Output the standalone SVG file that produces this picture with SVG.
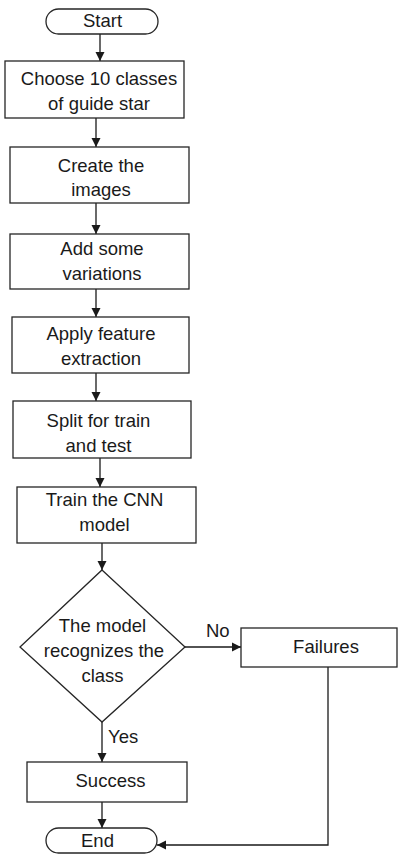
<svg xmlns="http://www.w3.org/2000/svg" width="398" height="854" viewBox="0 0 398 854">
  <style>
    .box { fill: #ffffff; stroke: #262626; stroke-width: 1.3; }
    .edge { fill: none; stroke: #1a1a1a; stroke-width: 1.3; }
    text { font-family: "Liberation Sans", Arial, sans-serif; font-size: 18.5px; fill: #1a1a1a; text-anchor: middle; }
    .lbl { text-anchor: start; }
  </style>
  <defs>
    <marker id="arrow" viewBox="0 0 10 10" refX="10" refY="5" markerWidth="9" markerHeight="10" markerUnits="userSpaceOnUse" orient="auto">
      <path d="M0,0 L10,5 L0,10 z" fill="#1a1a1a"/>
    </marker>
  </defs>
  <rect width="398" height="854" fill="#ffffff"/>

  <!-- connectors -->
  <g id="connectors">
    <line class="edge" x1="100" y1="34" x2="100" y2="61" marker-end="url(#arrow)"/>
    <line class="edge" x1="96" y1="118" x2="96" y2="147" marker-end="url(#arrow)"/>
    <line class="edge" x1="96" y1="203" x2="96" y2="234" marker-end="url(#arrow)"/>
    <line class="edge" x1="96" y1="289" x2="96" y2="317" marker-end="url(#arrow)"/>
    <line class="edge" x1="96" y1="373" x2="96" y2="401" marker-end="url(#arrow)"/>
    <line class="edge" x1="100" y1="458" x2="100" y2="487" marker-end="url(#arrow)"/>
    <line class="edge" x1="102" y1="543" x2="102" y2="570" marker-end="url(#arrow)"/>
    <line class="edge" x1="185" y1="647" x2="241" y2="647" marker-end="url(#arrow)"/>
    <line class="edge" x1="102" y1="722" x2="102" y2="762" marker-end="url(#arrow)"/>
    <line class="edge" x1="102" y1="802" x2="102" y2="828" marker-end="url(#arrow)"/>
    <polyline class="edge" points="328,667 328,845 157,845" marker-end="url(#arrow)"/>
    <text class="lbl" x="206" y="637">No</text>
    <text class="lbl" x="108" y="743">Yes</text>
  </g>

  <g id="start">
    <rect class="box" x="46" y="9" width="112" height="25" rx="12.5"/>
    <text x="102.5" y="27">Start</text>
  </g>

  <g id="choose-classes">
    <rect class="box" x="5" y="61" width="179" height="57"/>
    <text x="99" y="85">Choose 10 classes</text>
    <text x="99" y="110">of guide star</text>
  </g>

  <g id="create-images">
    <rect class="box" x="10" y="147" width="179" height="56"/>
    <text x="101" y="172">Create the</text>
    <text x="101" y="196">images</text>
  </g>

  <g id="add-variations">
    <rect class="box" x="10" y="234" width="179" height="55"/>
    <text x="102" y="255">Add some</text>
    <text x="102" y="280">variations</text>
  </g>

  <g id="feature-extraction">
    <rect class="box" x="12" y="317" width="177" height="56"/>
    <text x="101" y="340">Apply feature</text>
    <text x="101" y="365">extraction</text>
  </g>

  <g id="split">
    <rect class="box" x="13" y="401" width="178" height="57"/>
    <text x="98.5" y="427">Split for train</text>
    <text x="98.5" y="452">and test</text>
  </g>

  <g id="train-cnn">
    <rect class="box" x="17" y="487" width="179" height="56"/>
    <text x="104.5" y="506">Train the CNN</text>
    <text x="104.5" y="531">model</text>
  </g>

  <g id="decision">
    <polygon class="box" points="102,570 185,647 102,722 20,647"/>
    <text x="102.5" y="632">The model</text>
    <text x="104" y="657">recognizes the</text>
    <text x="102.5" y="682">class</text>
  </g>

  <g id="failures">
    <rect class="box" x="241" y="628" width="156" height="39"/>
    <text x="326" y="653">Failures</text>
  </g>

  <g id="success">
    <rect class="box" x="27" y="762" width="160" height="40"/>
    <text x="110.5" y="787">Success</text>
  </g>

  <g id="end">
    <rect class="box" x="46" y="828" width="111" height="25" rx="12.5"/>
    <text x="97.5" y="847">End</text>
  </g>
</svg>
